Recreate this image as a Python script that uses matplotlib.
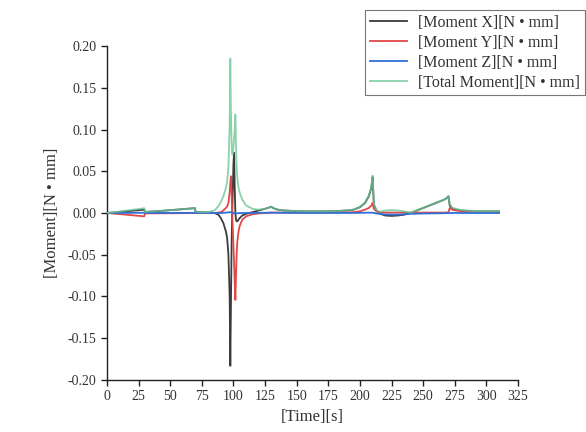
import matplotlib
matplotlib.use("Agg")
import matplotlib.pyplot as plt
import numpy as np

plt.rcParams['font.family'] = ['Liberation Serif', 'DejaVu Serif']
plt.rcParams['axes.unicode_minus'] = False

t = [0, 10, 20, 29.5, 30, 40, 50, 60, 69.5, 70, 75, 80, 85, 88, 90, 92, 94, 95, 96, 97,
     97.5, 98, 98.5, 99, 99.5, 100, 100.5, 101, 101.5, 102, 102.5, 103, 104, 105, 107,
     110, 115, 120, 125, 130, 131, 135, 140, 150, 160, 170, 180, 190, 195, 200, 204, 207,
     209, 210, 211, 213, 216, 220, 225, 230, 235, 240, 245, 250, 255, 260, 265, 268, 270,
     271, 273, 276, 280, 285, 290, 300, 310]

moment_x = [0, 0.0013, 0.0027, 0.004, 0.0012, 0.0022, 0.0034, 0.0046, 0.0058, 0.0015,
            0.001, 0.0008, 0.0, -0.002, -0.006, -0.012, -0.022, -0.03, -0.05, -0.1,
            -0.183, -0.11, -0.04, 0.0, 0.03, 0.06, 0.072, 0.03, 0.0, -0.008,
            -0.01, -0.01, -0.008, -0.006, -0.003, -0.001, 0.001, 0.003, 0.005, 0.0075,
            0.006, 0.004, 0.003, 0.0022, 0.002, 0.002, 0.0022, 0.003, 0.004, 0.007,
            0.012, 0.02, 0.03, 0.043, 0.01, 0.003, -0.001, -0.003, -0.0035, -0.003,
            -0.002, 0.0, 0.003, 0.006, 0.009, 0.012, 0.015, 0.017, 0.02, 0.009,
            0.005, 0.004, 0.003, 0.0025, 0.002, 0.002, 0.002]

moment_y = [0, -0.0013, -0.0027, -0.004, -0.0005, -0.0004, -0.0003, -0.0002, -0.0001, 0.0,
            0.0, 0.0, 0.0, 0.0005, 0.001, 0.003, 0.006, 0.008, 0.012, 0.025,
            0.036, 0.044, 0.025, 0.0, -0.02, -0.04, -0.06, -0.085, -0.104, -0.075,
            -0.05, -0.035, -0.022, -0.015, -0.008, -0.004, -0.0015, -0.0005, 0.0, 0.0005,
            0.0005, 0.0005, 0.0005, 0.0005, 0.0005, 0.0005, 0.0006, 0.0008, 0.001, 0.002,
            0.004, 0.006, 0.009, 0.012, 0.005, 0.002, 0.001, 0.0005, 0.0005, 0.0005,
            0.0005, 0.0005, 0.0005, 0.0005, 0.0005, 0.0005, 0.0005, 0.0005, 0.001, 0.006,
            0.004, 0.003, 0.002, 0.0015, 0.001, 0.001, 0.001]

moment_z = [0, 0.0001, 0.0002, 0.0003, 0.0001, 0.0001, 0.0001, 0.0002, 0.0002, 0.0001,
            0.0001, 0.0, 0.0, 0.0, 0.0, 0.0002, 0.0004, 0.0006, 0.0008, 0.001,
            0.001, 0.0008, 0.0005, 0.0003, 0.0, -0.0003, -0.0005, -0.0006, -0.0006, -0.0005,
            -0.0004, -0.0003, -0.0002, -0.0001, 0.0, 0.0, 0.0001, 0.0002, 0.0003, 0.0004,
            0.0004, 0.0003, 0.0002, 0.0001, 0.0001, 0.0001, 0.0001, 0.0001, 0.0001, 0.0002,
            0.0003, 0.0004, 0.0004, 0.0003, 0.0, -0.0005, -0.001, -0.0018, -0.002, -0.002,
            -0.0015, -0.001, -0.0008, -0.0006, -0.0005, -0.0004, -0.0003, -0.0002, -0.0001, 0.0,
            0.0, 0.0, 0.0, 0.0, 0.0, 0.0, 0.0]

moment_total = [0, 0.0018, 0.0038, 0.0057, 0.0013, 0.0022, 0.0034, 0.0046, 0.0058, 0.0015,
                0.001, 0.0012, 0.003, 0.008, 0.013, 0.02, 0.03, 0.038, 0.055, 0.105,
                0.185, 0.12, 0.085, 0.07, 0.07, 0.08, 0.09, 0.1, 0.118, 0.08,
                0.055, 0.042, 0.03, 0.024, 0.016, 0.009, 0.005, 0.004, 0.005, 0.0075,
                0.006, 0.004, 0.003, 0.0022, 0.002, 0.002, 0.0022, 0.0031, 0.0041, 0.0073,
                0.0126, 0.021, 0.031, 0.045, 0.011, 0.0035, 0.0015, 0.003, 0.0035, 0.003,
                0.002, 0.0005, 0.003, 0.006, 0.009, 0.012, 0.015, 0.017, 0.02, 0.011,
                0.0064, 0.005, 0.0036, 0.0029, 0.0022, 0.0022, 0.0022]

labels = ['[Moment X][N • mm]', '[Moment Y][N • mm]', '[Moment Z][N • mm]',
          '[Total Moment][N • mm]']
colors = ['#3c3c3c', '#e04848', '#2e6fd8', '#6cc796']

fig = plt.figure(figsize=(5.86, 4.32), dpi=100)
ax = fig.add_axes([0.1826, 0.1204, 0.7014, 0.7731])

series = [moment_x, moment_y, moment_z, moment_total]
zorders = [2, 2.5, 3, 4]
handles = []
for i, (vals, lab, col) in enumerate(zip(series, labels, colors)):
    alpha = 0.8 if i == 3 else 1.0
    h, = ax.plot(t, vals, color=col, lw=1.3, label=lab, alpha=alpha, zorder=zorders[i])
    handles.append(h)

ax.set_xlim(0, 325)
ax.set_ylim(-0.2, 0.2)
ax.set_xticks(np.arange(0, 326, 25))
ax.set_yticks(np.round(np.arange(-0.2, 0.201, 0.05), 2) + 0.0)
ax.yaxis.set_major_formatter(matplotlib.ticker.FuncFormatter(lambda v, p: '%.2f' % (round(v, 2) + 0.0)))
ax.spines['top'].set_visible(False)
ax.spines['right'].set_visible(False)
for s in ['left', 'bottom']:
    ax.spines[s].set_linewidth(1.0)
    ax.spines[s].set_color('#222222')
ax.tick_params(direction='out', length=4, width=1, labelsize=10, colors='#222222', labelcolor='#333333')
ax.set_xlabel('[Time][s]', fontsize=12, color='#333333', labelpad=4)
ax.set_ylabel('[Moment][N • mm]', fontsize=12, color='#333333', labelpad=6)

leg = fig.legend(handles=handles, loc='upper left', bbox_to_anchor=(0.623, 0.977),
                 fontsize=11.5, frameon=True, fancybox=False, handlelength=2.3,
                 handletextpad=0.7, labelspacing=0.25, borderpad=0.3, borderaxespad=0)
leg.get_frame().set_edgecolor('#555555')
leg.get_frame().set_linewidth(0.8)
for txt in leg.get_texts():
    txt.set_color('#333333')

fig.savefig('out.png', dpi=100)
